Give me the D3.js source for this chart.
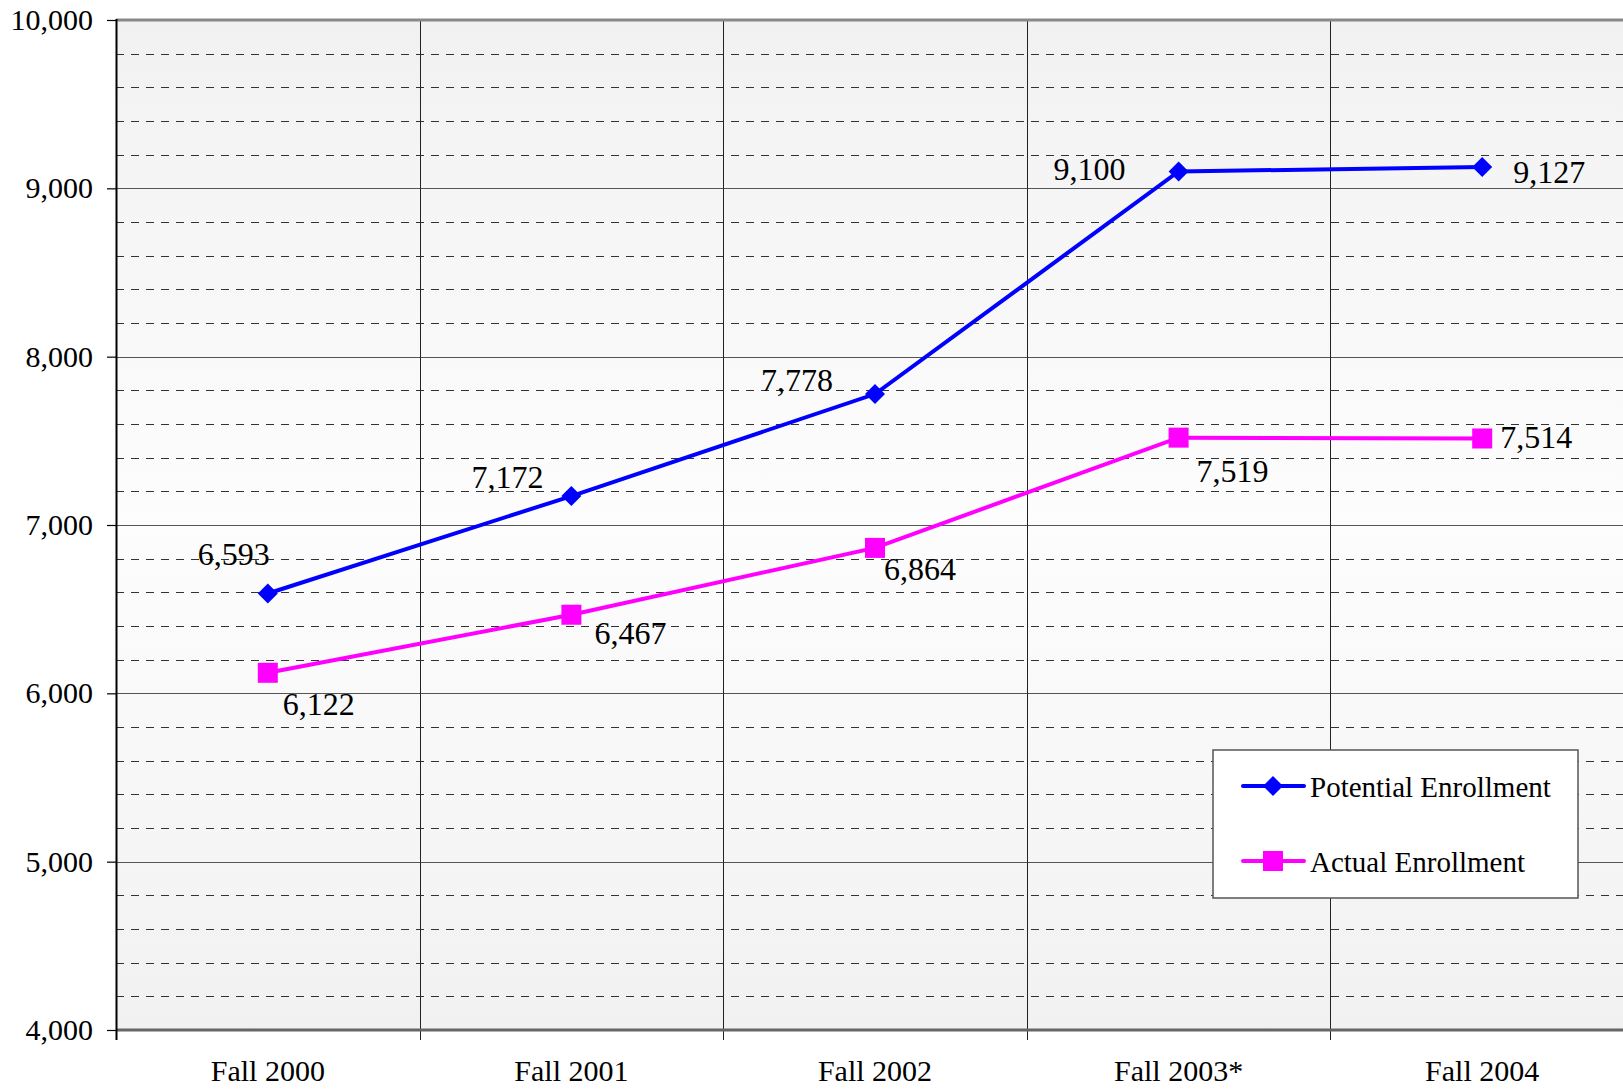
<!DOCTYPE html>
<html>
<head>
<meta charset="utf-8">
<script src="https://cdn.jsdelivr.net/npm/d3@7"></script>
<style>
  body { margin: 0; background: #fff; }
  svg text { font-family: "Liberation Serif", "Times New Roman", serif; fill: #000; }
</style>
</head>
<body>
<div id="chart"></div>
<script>
// data
var categories = ["Fall 2000", "Fall 2001", "Fall 2002", "Fall 2003*", "Fall 2004"];
var potential = [6593, 7172, 7778, 9100, 9127];
var actual = [6122, 6467, 6864, 7519, 7514];
var yTicks = [4000, 5000, 6000, 7000, 8000, 9000, 10000];

// label offsets (px) from each point: [dx, dy]
var potentialOffsets = [[-34, -29], [-64, -8], [-78, -3], [-89, 8], [67, 16]];
var actualOffsets = [[51, 42], [59, 29], [45, 32], [54, 44], [54, 10]];

var svgWidth = 1623;
var svgHeight = 1089;

var plot = { left: 116, top: 20, right: 1634, bottom: 1030 };

var svg = d3.select("#chart").append("svg")
  .attr("width", svgWidth)
  .attr("height", svgHeight);

var defs = svg.append("defs");
var grad = defs.append("linearGradient")
  .attr("id", "bg")
  .attr("x1", 0).attr("y1", 0).attr("x2", 0).attr("y2", 1);
grad.append("stop").attr("offset", "0%").attr("stop-color", "#f1f1f1");
grad.append("stop").attr("offset", "50%").attr("stop-color", "#fdfdfd");
grad.append("stop").attr("offset", "100%").attr("stop-color", "#f1f1f1");

var xScale = d3.scaleBand()
  .domain(categories)
  .range([plot.left, plot.right]);

var yScale = d3.scaleLinear()
  .domain([4000, 10000])
  .range([plot.bottom, plot.top]);

// plot background
svg.append("rect")
  .attr("x", plot.left)
  .attr("y", plot.top)
  .attr("width", plot.right - plot.left)
  .attr("height", plot.bottom - plot.top)
  .attr("fill", "url(#bg)");

// minor dashed gridlines
var minor = d3.range(4200, 10000, 200).filter(function (v) { return v % 1000 !== 0; });
svg.append("g").selectAll("line")
  .data(minor)
  .enter()
  .append("line")
  .attr("x1", plot.left)
  .attr("x2", plot.right)
  .attr("y1", function (d) { return Math.round(yScale(d)) + 0.5; })
  .attr("y2", function (d) { return Math.round(yScale(d)) + 0.5; })
  .attr("stroke", "#333")
  .attr("stroke-width", 1)
  .attr("stroke-dasharray", "8,7");

// major gridlines
svg.append("g").selectAll("line")
  .data(yTicks.slice(1, -1))
  .enter()
  .append("line")
  .attr("x1", plot.left)
  .attr("x2", plot.right)
  .attr("y1", function (d) { return Math.round(yScale(d)) + 0.5; })
  .attr("y2", function (d) { return Math.round(yScale(d)) + 0.5; })
  .attr("stroke", "#555")
  .attr("stroke-width", 1);

// vertical category separators
svg.append("g").selectAll("line")
  .data(categories.slice(1))
  .enter()
  .append("line")
  .attr("x1", function (d) { return Math.round(xScale(d)) + 0.5; })
  .attr("x2", function (d) { return Math.round(xScale(d)) + 0.5; })
  .attr("y1", plot.top)
  .attr("y2", plot.bottom + 10)
  .attr("stroke", "#222")
  .attr("stroke-width", 1);

// top border
svg.append("line")
  .attr("x1", plot.left).attr("x2", plot.right)
  .attr("y1", plot.top).attr("y2", plot.top)
  .attr("stroke", "#888")
  .attr("stroke-width", 3);

// y axis
var yAxis = d3.axisLeft(yScale)
  .tickValues(yTicks)
  .tickSize(9)
  .tickPadding(14)
  .tickFormat(d3.format(","));

var yG = svg.append("g")
  .attr("transform", "translate(" + plot.left + ",0)")
  .call(yAxis);
yG.select(".domain").remove();
yG.selectAll(".tick line").attr("stroke", "#000").attr("stroke-width", 1.2);
yG.selectAll(".tick text")
  .style("font-size", "30px")
  .style("font-family", "Liberation Serif, serif")
  .attr("fill", "#000");

// x axis
var xG = svg.append("g")
  .attr("transform", "translate(0," + plot.bottom + ")")
  .call(d3.axisBottom(xScale).tickSize(0).tickPadding(30));
xG.select(".domain").remove();
xG.selectAll(".tick text")
  .style("font-size", "30px")
  .style("font-family", "Liberation Serif, serif")
  .attr("fill", "#000");

// x axis baseline
svg.append("line")
  .attr("x1", plot.left).attr("x2", plot.right)
  .attr("y1", plot.bottom).attr("y2", plot.bottom)
  .attr("stroke", "#666")
  .attr("stroke-width", 3);

// left axis line
svg.append("line")
  .attr("x1", plot.left + 0.5).attr("x2", plot.left + 0.5)
  .attr("y1", plot.top - 1).attr("y2", plot.bottom + 10)
  .attr("stroke", "#000")
  .attr("stroke-width", 2);

function cx(i) { return xScale(categories[i]) + xScale.bandwidth() / 2; }

var line = d3.line()
  .x(function (d, i) { return cx(i); })
  .y(function (d) { return yScale(d); });

// series lines
svg.append("path")
  .datum(potential)
  .attr("d", line)
  .attr("fill", "none")
  .attr("stroke", "#0000ff")
  .attr("stroke-width", 4);

svg.append("path")
  .datum(actual)
  .attr("d", line)
  .attr("fill", "none")
  .attr("stroke", "#ff00ff")
  .attr("stroke-width", 4);

var diamond = d3.symbol().type(d3.symbolSquare).size(200);

svg.append("g").selectAll("path")
  .data(potential)
  .enter()
  .append("path")
  .attr("d", diamond)
  .attr("transform", function (d, i) { return "translate(" + cx(i) + "," + yScale(d) + ") rotate(45)"; })
  .attr("fill", "#0000ff");

svg.append("g").selectAll("rect")
  .data(actual)
  .enter()
  .append("rect")
  .attr("x", function (d, i) { return cx(i) - 10; })
  .attr("y", function (d) { return yScale(d) - 10; })
  .attr("width", 20)
  .attr("height", 20)
  .attr("fill", "#ff00ff");

// data labels
svg.append("g").selectAll("text")
  .data(potential)
  .enter()
  .append("text")
  .attr("x", function (d, i) { return cx(i) + potentialOffsets[i][0]; })
  .attr("y", function (d, i) { return yScale(d) + potentialOffsets[i][1]; })
  .attr("text-anchor", "middle")
  .style("font-size", "32px")
  .text(function (d) { return d3.format(",")(d); });

svg.append("g").selectAll("text")
  .data(actual)
  .enter()
  .append("text")
  .attr("x", function (d, i) { return cx(i) + actualOffsets[i][0]; })
  .attr("y", function (d, i) { return yScale(d) + actualOffsets[i][1]; })
  .attr("text-anchor", "middle")
  .style("font-size", "32px")
  .text(function (d) { return d3.format(",")(d); });

// legend
var legend = svg.append("g").attr("transform", "translate(1213,750)");
legend.append("rect")
  .attr("width", 365)
  .attr("height", 148)
  .attr("fill", "#fff")
  .attr("stroke", "#555")
  .attr("stroke-width", 1.5);

var legendItems = [
  { name: "Potential Enrollment", color: "#0000ff", marker: "diamond" },
  { name: "Actual Enrollment", color: "#ff00ff", marker: "square" }
];

var rows = legend.selectAll("g.item")
  .data(legendItems)
  .enter()
  .append("g")
  .attr("class", "item")
  .attr("transform", function (d, i) { return "translate(0," + (36 + i * 75) + ")"; });

rows.append("line")
  .attr("x1", 30).attr("x2", 91)
  .attr("y1", 0).attr("y2", 0)
  .attr("stroke", function (d) { return d.color; })
  .attr("stroke-width", 4)
  .attr("stroke-linecap", "round");

rows.append("path")
  .attr("d", function (d) {
    return d.marker === "diamond" ? diamond() : d3.symbol().type(d3.symbolSquare).size(400)();
  })
  .attr("transform", function (d) { return "translate(60,0)" + (d.marker === "diamond" ? " rotate(45)" : ""); })
  .attr("fill", function (d) { return d.color; });

rows.append("text")
  .attr("x", 97)
  .attr("y", 11)
  .style("font-size", "29px")
  .text(function (d) { return d.name; });
</script>
</body>
</html>
